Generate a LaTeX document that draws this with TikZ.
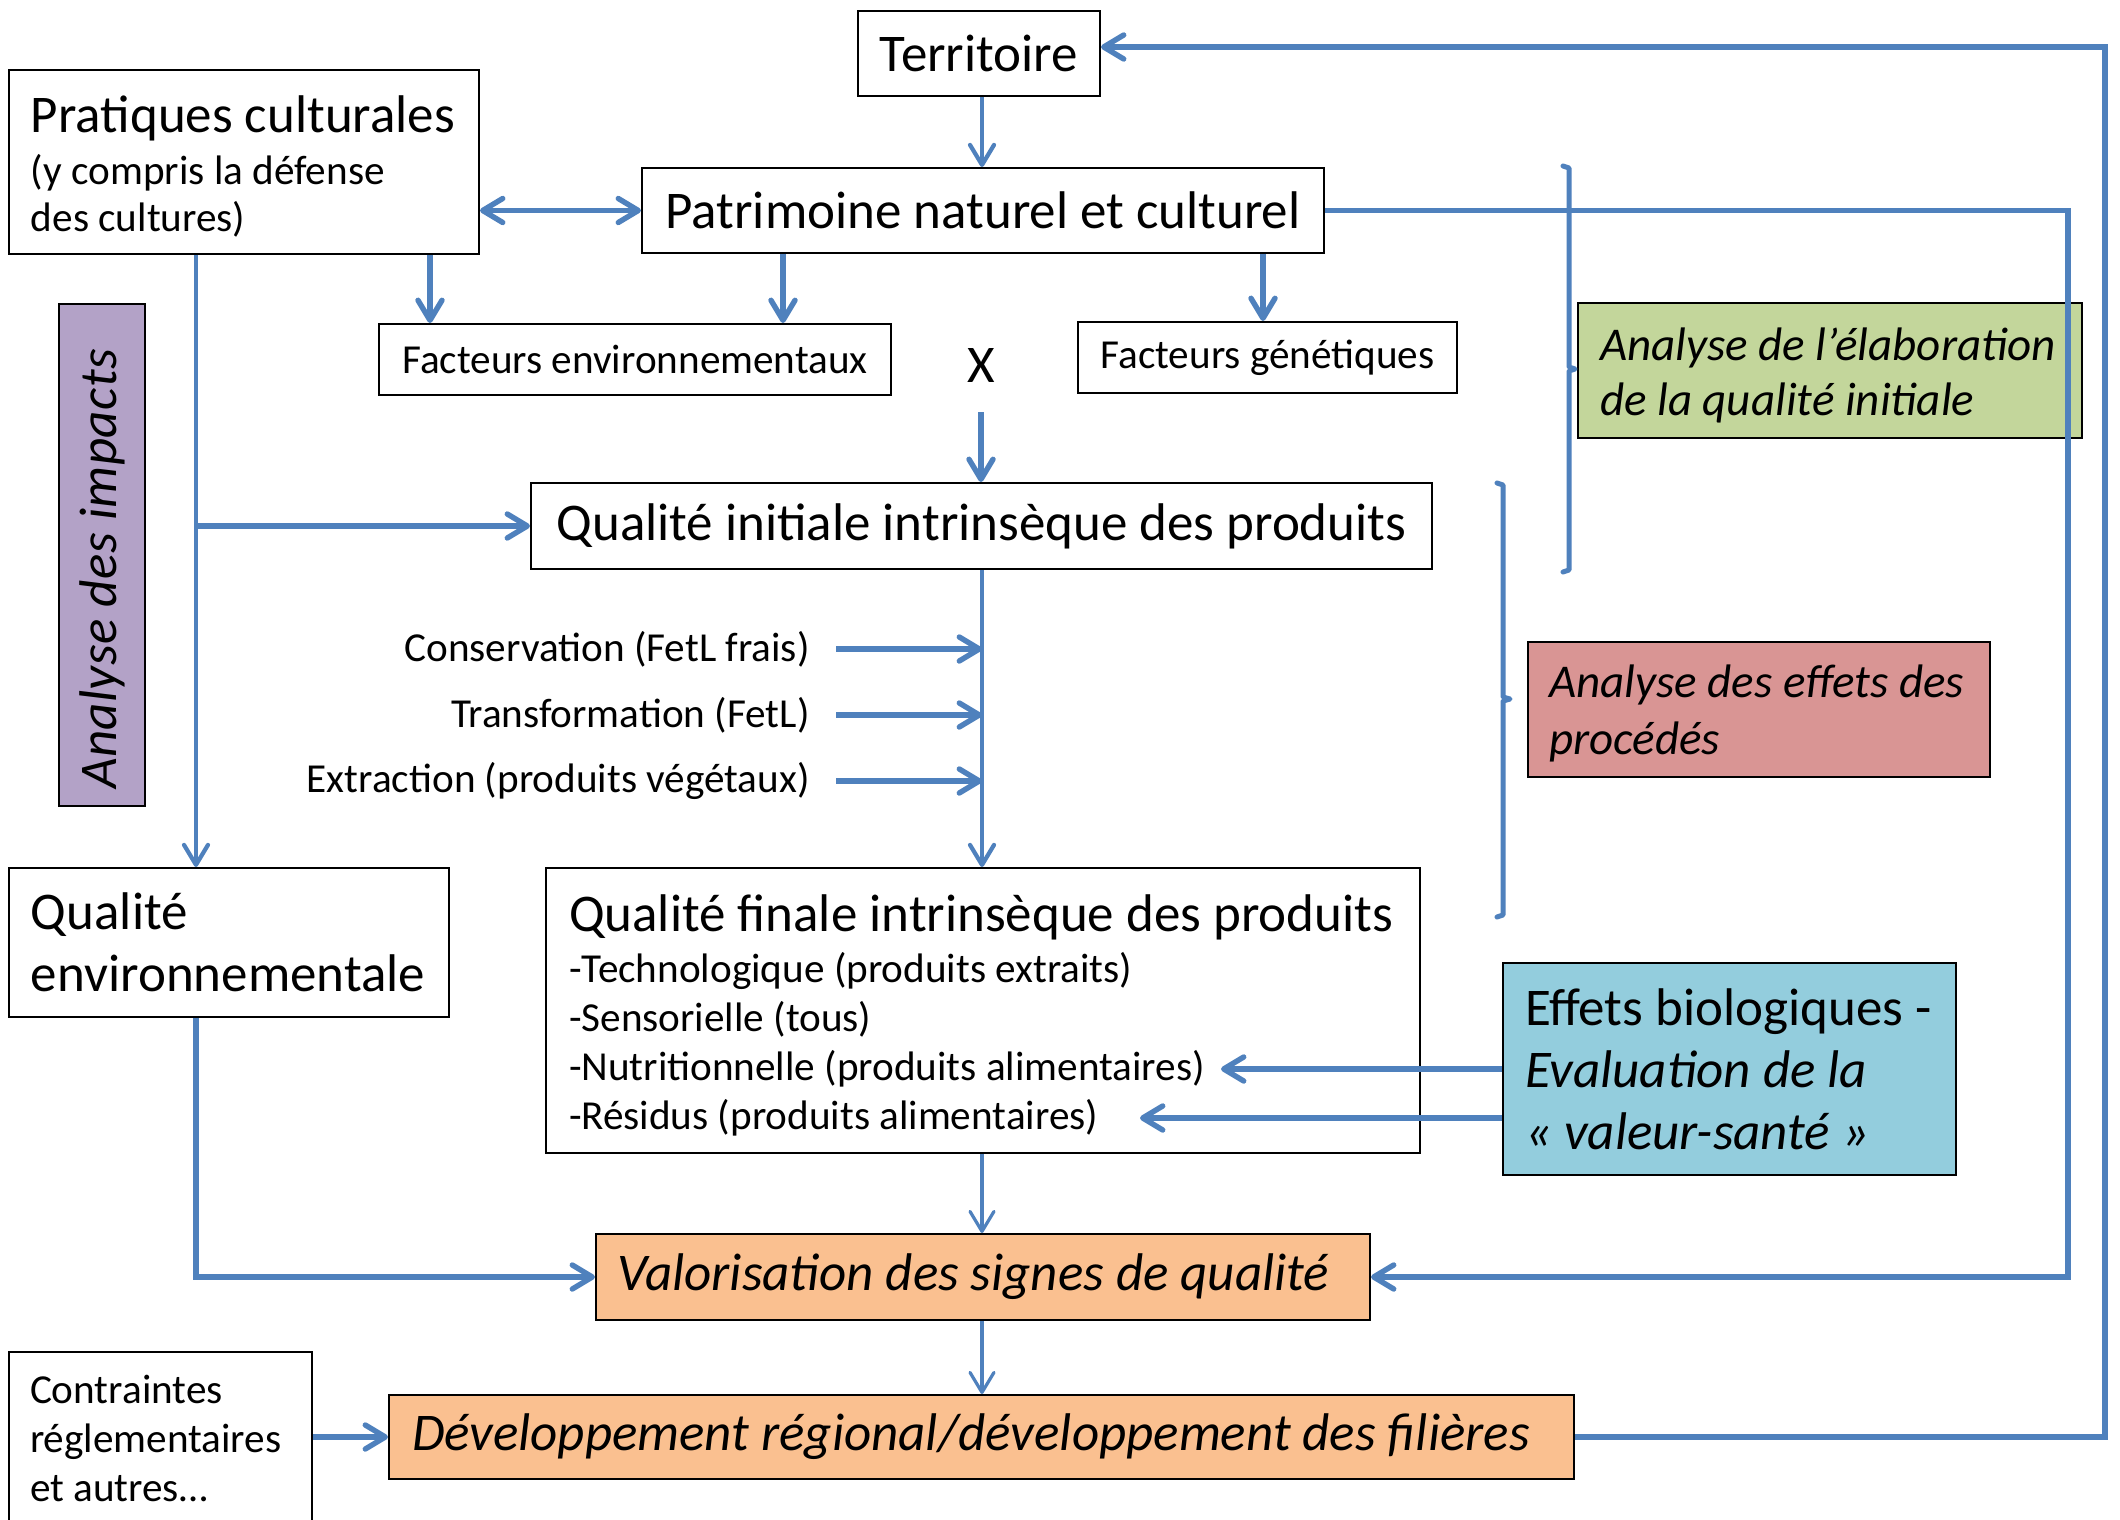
\documentclass[tikz,border=0pt]{standalone}
\usepackage{fontspec}
\setmainfont{Carlito}
\usetikzlibrary{arrows.meta}
\definecolor{lnblue}{HTML}{4F81BD}
\definecolor{purp}{HTML}{B3A2C7}
\definecolor{grn}{HTML}{C3D69B}
\definecolor{rd}{HTML}{D99594}
\definecolor{cyanbx}{HTML}{93CDDD}
\definecolor{orng}{HTML}{FAC090}
\newcommand\Lf{\fontsize{26.5}{31}\selectfont}
\newcommand\Mf{\fontsize{20.6}{24.5}\selectfont}
\newcommand\Af{\fontsize{23.5}{27.5}\selectfont\itshape}
\begin{document}
\begin{tikzpicture}[x=0.5pt,y=-0.5pt,
  bx/.style={draw=black, line width=1pt, inner sep=0pt},
  tipb/.tip={Straight Barb[length=10pt,width=12pt,round]},
  ar/.style={draw=lnblue, line width=2.7pt, -tipb},
  arm/.style={draw=lnblue, line width=2.1pt, -tipb},
  art/.style={draw=lnblue, line width=1.6pt, -tipb},
  dar/.style={draw=lnblue, line width=2.7pt, tipb-tipb},
  brk/.style={draw=lnblue, line width=2.5pt, line join=round, line cap=round}
]
\useasboundingbox (0,0) rectangle (2120,1520);
\clip (0,0) rectangle (2120,1520);
\fill[white] (0,0) rectangle (2120,1520);

% helper columns / rows
\coordinate (colA) at (430,0);
\coordinate (colB) at (783,0);
\coordinate (colC) at (1263,0);
\coordinate (colM) at (982,0);
\coordinate (colL) at (196,0);
\coordinate (colR1) at (2068,0);
\coordinate (colR2) at (2105,0);
\coordinate (rowT) at (0,47);
\coordinate (nutE) at (1221,1069);
\coordinate (resE) at (1140,1118);

% boxes
\node[bx, minimum width=121pt, minimum height=42.5pt, font=\Lf] (terr) at (979,53.5) {Territoire};
\node[bx, minimum width=235pt, minimum height=92pt, text width=213pt, align=flush left, inner xsep=11pt, font=\fontsize{20.6}{23.8}\selectfont] (prat) at (244,162)
  {{\Lf\rule{0pt}{22.8pt}Pratiques culturales}\\[2.2pt](y compris la défense\\des cultures)};
\node[bx, minimum width=341pt, minimum height=42.5pt, font=\Lf] (patr) at (983,210.5) {Patrimoine naturel et culturel};
\node[bx, minimum width=256pt, minimum height=35.5pt, font=\Mf] (fenv) at (635,359.5) {Facteurs environnementaux};
\node[bx, minimum width=189.5pt, minimum height=35.5pt, font=\Mf] (fgen) at (1267.5,357.5) {Facteurs génétiques};
\node[font=\Lf, inner sep=0pt] (xx) at (981,365) {X};
\node[bx, minimum width=450.5pt, minimum height=43pt, font=\Lf] (qi) at (981.5,526) {Qualité initiale intrinsèque des produits};
\node[bx, fill=purp, rotate=90, minimum width=251pt, minimum height=43pt, font=\Lf\itshape\addfontfeature{LetterSpace=0.8}] (imp) at (102,555)
  {Analyse des impacts\hspace*{14pt}};
\node[bx, minimum width=220pt, minimum height=74.5pt, text width=198pt, align=flush left, inner xsep=11pt, font=\Lf] (qenv) at (229,942.5)
  {Qualité\\environnementale};
\node[bx, minimum width=437pt, minimum height=142.5pt, text width=414pt, align=flush left, inner xsep=11.5pt, font=\Mf] (qf) at (983,1010.5)
  {{\Lf\rule{0pt}{23.5pt}Qualité finale intrinsèque des produits}\\[1pt]-Technologique (produits extraits)\\-Sensorielle (tous)\\-Nutritionnelle (produits alimentaires)\\-Résidus (produits alimentaires)};
\node[bx, fill=cyanbx, minimum width=226.5pt, minimum height=106pt, text width=204.5pt, align=flush left, inner xsep=11pt, font=\Lf] (eff) at (1729.5,1069)
  {Effets biologiques -\\\textit{Evaluation de la}\\\textit{«~valeur-santé~»}};
\node[bx, fill=orng, minimum width=387pt, minimum height=43pt, font=\Lf\itshape] (val) at (983,1277) {Valorisation des signes de qualité\hspace*{9.5pt}};
\node[bx, fill=orng, minimum width=592.5pt, minimum height=42pt, text width=569.5pt, align=flush left, inner xsep=11.5pt, font=\Lf\itshape] (dev) at (981.5,1437)
  {Développement régional/développement des filières};
\node[bx, minimum width=151.5pt, minimum height=86pt, text width=130.5pt, align=flush left, inner xsep=10.5pt, font=\Mf] (contr) at (160.5,1438)
  {Contraintes\\réglementaires\\et autres…};
\node[bx, fill=grn, minimum width=252pt, minimum height=67.5pt, text width=230pt, align=flush left, inner xsep=11pt, font=\Af] (elab) at (1830,370.5)
  {\rule{0pt}{21pt}Analyse de l’élaboration\\de la qualité initiale};
\node[bx, fill=rd, minimum width=231pt, minimum height=67.5pt, text width=210pt, align=flush left, inner xsep=10.5pt, font=\fontsize{23.5}{28.5}\selectfont\itshape] (proc) at (1759,709.5)
  {\rule{0pt}{20.5pt}Analyse des effets des\\procédés};

% process labels
\node[anchor=east, font=\Mf, inner sep=0pt] (cons) at (810,649) {Conservation (FetL frais)};
\node[anchor=east, font=\Mf, inner sep=0pt] (trans) at (810,715) {Transformation (FetL)};
\node[anchor=east, font=\Mf, inner sep=0pt] (extr) at (810,781) {Extraction (produits végétaux)};

% connectors
\draw[arm] (terr.south -| colM) -- (patr.north -| colM);
\draw[dar] (prat.east |- patr.west) -- (patr.west);
\draw[ar] (prat.south -| colA) -- (fenv.north -| colA);
\draw[ar] (patr.south -| colB) -- (fenv.north -| colB);
\draw[ar] (patr.south -| colC) -- (fgen.north -| colC);
\draw[ar] ([yshift=-15pt]xx.south) -- (xx.south |- qi.north);

\draw[arm] (prat.south -| colL) -- (qenv.north -| colL);
\draw[ar] (colL |- qi.west) -- (qi.west);

\draw[arm] (qi.south -| colM) -- (qf.north -| colM);
\draw[ar] ([xshift=13pt]cons.east) -- (cons.east -| colM);
\draw[ar] ([xshift=13pt]trans.east) -- (trans.east -| colM);
\draw[ar] ([xshift=13pt]extr.east) -- (extr.east -| colM);

\draw[ar] (eff.west |- nutE) -- (nutE);
\draw[ar] (eff.west |- resE) -- (resE);

\draw[art] (qf.south -| colM) -- (val.north -| colM);
\draw[art] (val.south -| colM) -- (dev.north -| colM);
\draw[ar] (qenv.south -| colL) |- (val.west);
\draw[ar] (patr.east) -| (colR1 |- val.east) -- (val.east);
\draw[ar] (dev.east) -| (colR2 |- rowT) -- (terr.east |- rowT);
\draw[ar] (contr.east |- dev.west) -- (dev.west);

% brackets
\draw[brk] (1563,166) -- (1569,168) -- (1569,367) -- (1575,369) -- (1569,371) -- (1569,570) -- (1563,572);
\draw[brk] (1497,483) -- (1503,485) -- (1503,697) -- (1510,699) -- (1503,701) -- (1503,915) -- (1497,917);
\end{tikzpicture}
\end{document}
